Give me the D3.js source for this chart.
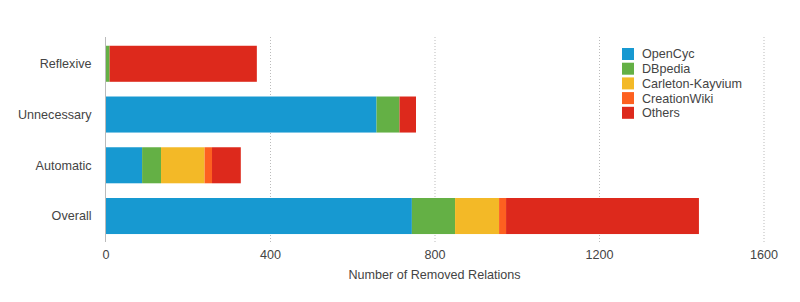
<!DOCTYPE html>
<html>
<head>
<meta charset="utf-8">
<script src="https://d3js.org/d3.v7.min.js"></script>
<style>
body { margin: 0; background: #fff; }
text { font-family: "Helvetica Neue", Helvetica, Arial, "Liberation Sans", sans-serif; fill: #444; }
</style>
</head>
<body>
<svg id="chart" width="800" height="302"></svg>
<script>
let categories = ["Reflexive", "Unnecessary", "Automatic", "Overall"];
let seriesNames = ["OpenCyc", "DBpedia", "Carleton-Kayvium", "CreationWiki", "Others"];
let seriesColors = ["#1799d1", "#64b045", "#f3b927", "#fd6020", "#dd291c"];
// one array per series, same order as categories
let openCyc = [0, 659, 89, 745];
let dbpedia = [10, 56, 46, 105];
let carleton = [0, 0, 106, 107];
let creationWiki = [0, 0, 18, 17];
let others = [358, 40, 70, 469];
let xTicks = [0, 400, 800, 1200, 1600];
let xTitle = "Number of Removed Relations";

let seriesValues = [openCyc, dbpedia, carleton, creationWiki, others];
let rows = categories.map((c, i) => {
    let row = { category: c };
    seriesNames.forEach((s, j) => row[s] = seriesValues[j][i]);
    return row;
});

let svg = d3.select("#chart");
let plotLeft = 105.5, plotRight = 763.5, plotTop = 37, plotBottom = 242;
let fontSize = 12.6;

let x = d3.scaleLinear().domain([0, 1600]).range([plotLeft, plotRight]);
let y = d3.scaleBand().domain(categories).range([plotTop + 1.4, plotBottom - 0.6]).paddingInner(0.29).paddingOuter(0.145);

// dotted grid lines
svg.append("g")
    .selectAll("line")
    .data(xTicks.slice(1))
    .enter()
    .append("line")
    .attr("x1", d => x(d) + 0.5)
    .attr("x2", d => x(d) + 0.5)
    .attr("y1", plotTop)
    .attr("y2", plotBottom)
    .attr("stroke", "#bbb")
    .attr("stroke-width", 1)
    .attr("stroke-dasharray", "1,2");

let stack = d3.stack().keys(seriesNames)(rows);

svg.append("g")
    .selectAll("g")
    .data(stack)
    .enter()
    .append("g")
    .attr("fill", (d, i) => seriesColors[i])
    .selectAll("rect")
    .data(d => d)
    .enter()
    .append("rect")
    .attr("x", d => x(d[0]))
    .attr("y", d => y(d.data.category))
    .attr("width", d => x(d[1]) - x(d[0]))
    .attr("height", y.bandwidth());

// y axis line
svg.append("line")
    .attr("x1", plotLeft)
    .attr("x2", plotLeft)
    .attr("y1", plotTop)
    .attr("y2", plotBottom)
    .attr("stroke", "#bbb")
    .attr("stroke-width", 1);

// category labels
svg.append("g")
    .selectAll("text")
    .data(categories)
    .enter()
    .append("text")
    .attr("x", 91.5)
    .attr("y", d => y(d) + y.bandwidth() / 2)
    .attr("dy", "0.35em")
    .attr("text-anchor", "end")
    .attr("font-size", fontSize)
    .text(d => d);

// tick labels
let xAxis = svg.append("g")
    .attr("transform", `translate(0,${plotBottom})`)
    .call(d3.axisBottom(x).tickValues(xTicks).tickSize(0).tickPadding(8).tickFormat(d3.format("d")));
xAxis.select(".domain").remove();
xAxis.selectAll("text")
    .attr("font-size", fontSize)
    .attr("fill", "#444")
    .style("font-family", "\"Helvetica Neue\", Helvetica, Arial, \"Liberation Sans\", sans-serif");

svg.append("text")
    .attr("x", (plotLeft + plotRight) / 2)
    .attr("y", 279)
    .attr("text-anchor", "middle")
    .attr("font-size", fontSize)
    .text(xTitle);

// legend
let legend = svg.append("g")
    .selectAll("g")
    .data(seriesNames)
    .enter()
    .append("g")
    .attr("transform", (d, i) => `translate(622,${48 + i * 14.7})`);
legend.append("rect")
    .attr("width", 12)
    .attr("height", 12)
    .attr("fill", (d, i) => seriesColors[i]);
legend.append("text")
    .attr("x", 20)
    .attr("y", 6)
    .attr("dy", "0.35em")
    .attr("font-size", fontSize)
    .text(d => d);
</script>
</body>
</html>
